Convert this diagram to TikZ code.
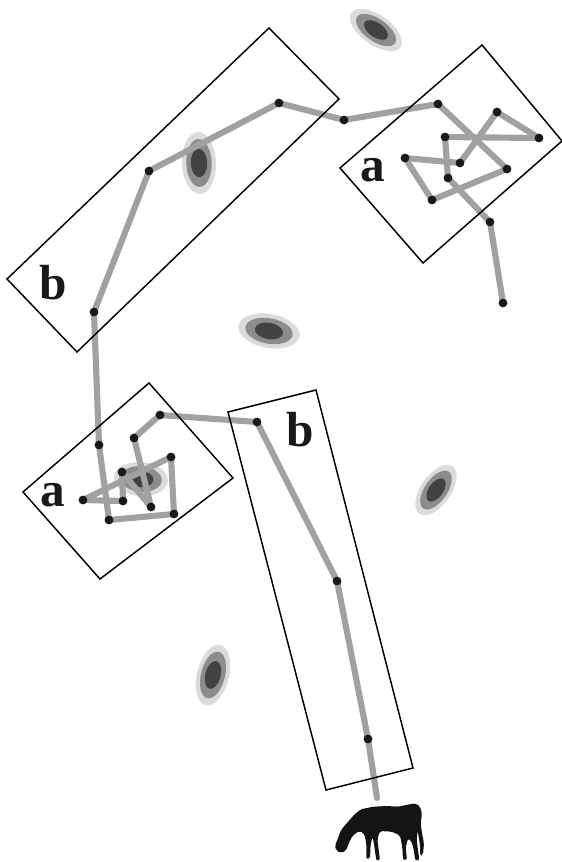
\documentclass[tikz,border=0pt]{standalone}
\usepackage{fontspec}
\setmainfont{Liberation Serif}
\definecolor{walkgrey}{gray}{0.63}
\definecolor{spotlight}{gray}{0.86}
\definecolor{spotmid}{gray}{0.55}
\definecolor{spotdark}{gray}{0.26}
% a shaded spot: x, y, angle, semi-major, semi-minor
\newcommand\drawspot[5]{%
  \begin{scope}[shift={(#1,#2)},rotate=#3]
    \fill[spotlight] (0,0) ellipse [x radius=#4, y radius=#5];
    \fill[spotmid] (0,0) ellipse [x radius=0.77*#4, y radius=0.75*#5];
    \fill[spotdark] (0,0) ellipse [x radius=0.46*#4, y radius=0.48*#5];
  \end{scope}}
\begin{document}
\begin{tikzpicture}[x=0.75pt,y=-0.75pt,
  walk/.style={draw=walkgrey,line width=4.6pt,line join=round,line cap=round},
  dot/.style={fill=black!90},
  frame/.style={draw=black,line width=1.1pt,line join=miter},
  tag/.style={font=\fontsize{37}{37}\selectfont\bfseries,text=black!90,inner sep=0pt}]
\useasboundingbox (0,0) rectangle (561,862);

% spots
\drawspot{376}{30}{-35}{30}{15}
\drawspot{199}{163}{92}{31}{17}
\drawspot{269}{331}{-10}{31}{17}
\drawspot{141}{479}{-5}{27}{17}
\drawspot{436}{490}{55}{29}{15}
\drawspot{213}{675}{76}{31}{16}

% walk points
\coordinate (w0) at (377,798);
\coordinate (w1) at (368,739);
\coordinate (w2) at (337,581);
\coordinate (w3) at (257,422);
\coordinate (w4) at (160,415);
\coordinate (w5) at (134,438);
\coordinate (w6) at (151,507);
\coordinate (w7) at (122,472);
\coordinate (w8) at (123,501);
\coordinate (w9) at (83,500);
\coordinate (w10) at (171,457);
\coordinate (w11) at (174,514);
\coordinate (w12) at (109,520);
\coordinate (w13) at (99,445);
\coordinate (w14) at (94,312);
\coordinate (w15) at (149,171);
\coordinate (w16) at (279,103);
\coordinate (w17) at (344,120);
\coordinate (w18) at (438,104);
\coordinate (w19) at (507,169);
\coordinate (w20) at (432,200);
\coordinate (w21) at (405,158);
\coordinate (w22) at (460,163);
\coordinate (w23) at (497,112);
\coordinate (w24) at (539,138);
\coordinate (w25) at (445,137);
\coordinate (w26) at (448,178);
\coordinate (w27) at (490,222);
\coordinate (w28) at (503,303);

% the walk
\draw[walk] (w0) -- (w1) -- (w2) -- (w3) -- (w4) -- (w5) -- (w6) -- (w7)
  -- (w8) -- (w9) -- (w10) -- (w11) -- (w12) -- (w13) -- (w14) -- (w15)
  -- (w16) -- (w17) -- (w18) -- (w19) -- (w20) -- (w21) -- (w22) -- (w23)
  -- (w24) -- (w25) -- (w26) -- (w27) -- (w28);

% stops
\foreach \p in {w1,w2,w3,w4,w5,w6,w7,w8,w9,w10,w11,w12,w13,w14,w15,w16,
  w17,w18,w19,w20,w21,w22,w23,w24,w25,w26,w27,w28}
  \fill[dot] (\p) circle (4.4);

% frames
\draw[frame] (269,28) -- (339,99) -- (77,352) -- (7,279) -- cycle;
\draw[frame] (482,45) -- (562,141) -- (423,263) -- (340,168) -- cycle;
\draw[frame] (149,383) -- (233,478) -- (100,579) -- (23,492) -- cycle;
\draw[frame] (228,412) -- (316,390) -- (413,768) -- (326,790) -- cycle;

% labels
\node[tag] (lb1) at (53,283) {b};
\node[tag] (la1) at (373,170) {a};
\node[tag] (la2) at (53,495) {a};
\node[tag] (lb2) at (300,430) {b};

% grazing horse
\begin{scope}[shift={(320,760)},scale=1/3]
\fill[black!92,rounded corners=1.5pt] (122,148) -- (160,140) -- (200,138) -- (235,140)
  -- (262,134) -- (288,130) -- (300,140) -- (306,160) -- (302,190) -- (306,220)
  -- (312,250) -- (309,284) -- (301,288) -- (300,255) -- (296,230) -- (293,212)
  -- (290,240) -- (298,300) -- (286,302) -- (280,262) -- (272,240) -- (264,236)
  -- (257,262) -- (261,299) -- (249,300) -- (247,262) -- (240,226) -- (215,215)
  -- (180,213) -- (172,238) -- (180,300) -- (169,302) -- (162,252) -- (158,232)
  -- (152,250) -- (150,296) -- (139,297) -- (139,250) -- (133,222) -- (118,212)
  -- (97,228) -- (86,250) -- (79,271) -- (63,279) -- (48,271) -- (45,256)
  -- (52,240) -- (58,224) -- (63,210) -- (80,190) -- (102,165) -- cycle;
\end{scope}
\end{tikzpicture}
\end{document}
